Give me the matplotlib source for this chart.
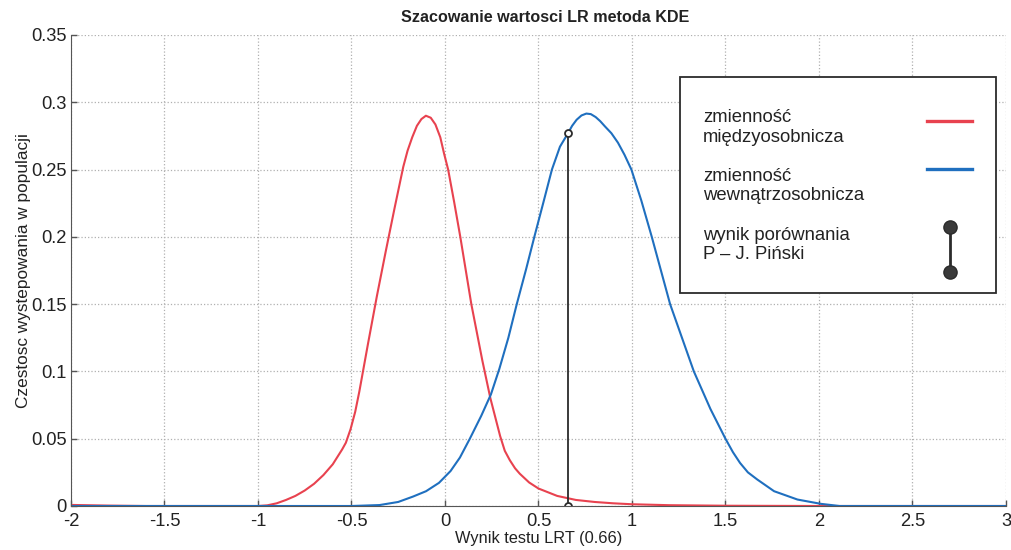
import matplotlib
matplotlib.use("Agg")
import matplotlib.pyplot as plt
from matplotlib.patches import Rectangle

plt.rcParams['font.family'] = ['Liberation Sans', 'DejaVu Sans']
plt.rcParams['axes.unicode_minus'] = False

# KDE curves
red_x = [-2.0, -1.8, -1.6, -1.0, -0.95, -0.9, -0.85, -0.8, -0.75, -0.7, -0.65, -0.6,
         -0.55, -0.53, -0.505, -0.48, -0.458, -0.411, -0.364, -0.317, -0.27, -0.223,
         -0.2, -0.175, -0.15, -0.126, -0.102, -0.076, -0.051, -0.025, -0.005, 0.017,
         0.049, 0.082, 0.141, 0.2, 0.243, 0.295, 0.32, 0.347, 0.375, 0.4, 0.45, 0.5,
         0.6, 0.7, 0.8, 0.9, 1.0, 1.2, 1.5, 2.0, 3.0]
red_y = [0.0008, 0.0003, 0.0, 0.0, 0.0005, 0.002, 0.0045, 0.0075, 0.0115, 0.0165, 0.023,
         0.031, 0.042, 0.047, 0.057, 0.07, 0.085, 0.121, 0.156, 0.189, 0.221, 0.252,
         0.264, 0.274, 0.2825, 0.2875, 0.29, 0.2885, 0.2835, 0.274, 0.262, 0.25,
         0.226, 0.2, 0.15, 0.108, 0.08, 0.052, 0.041, 0.034, 0.028, 0.024, 0.0175,
         0.013, 0.0075, 0.0045, 0.003, 0.002, 0.0013, 0.0006, 0.0002, 0.0, 0.0]

blue_x = [-2.0, -0.5, -0.35, -0.25, -0.171, -0.101, -0.032, 0.03, 0.08, 0.133, 0.194,
          0.246, 0.291, 0.339, 0.384, 0.434, 0.478, 0.529, 0.572, 0.615, 0.658, 0.68,
          0.704, 0.73, 0.756, 0.78, 0.806, 0.83, 0.856, 0.89, 0.925, 0.96, 0.997, 1.05,
          1.106, 1.155, 1.204, 1.27, 1.331, 1.42, 1.5, 1.54, 1.578, 1.62, 1.67, 1.76,
          1.885, 2.01, 2.11, 3.0]
blue_y = [0.0, 0.0, 0.0007, 0.003, 0.007, 0.011, 0.0172, 0.026, 0.036, 0.05, 0.067,
          0.083, 0.102, 0.125, 0.15, 0.176, 0.2, 0.227, 0.25, 0.267, 0.277, 0.2825,
          0.287, 0.2902, 0.2916, 0.2912, 0.289, 0.286, 0.282, 0.277, 0.27, 0.261, 0.25,
          0.227, 0.2, 0.175, 0.15, 0.124, 0.1, 0.072, 0.05, 0.04, 0.032, 0.025, 0.0197,
          0.011, 0.0048, 0.0016, 0.0, 0.0]

# comparison result P - J. Pinski
lrt_x = 0.66
lrt_y = 0.277

x_ticks = [-2, -1.5, -1, -0.5, 0, 0.5, 1, 1.5, 2, 2.5, 3]
x_tick_labels = ['-2', '-1.5', '-1', '-0.5', '0', '0.5', '1', '1.5', '2', '2.5', '3']
y_ticks = [0, 0.05, 0.1, 0.15, 0.2, 0.25, 0.3, 0.35]
y_tick_labels = ['0', '0.05', '0.1', '0.15', '0.2', '0.25', '0.3', '0.35']

legend_labels = ['zmienność\nmiędzyosobnicza', 'zmienność\nwewnątrzosobnicza',
                 'wynik porównania\nP – J. Piński']

red = '#e8424f'
blue = '#1f6fbf'
dark = '#2b2b2b'

fig = plt.figure(figsize=(10.11, 5.5), dpi=100)
ax = fig.add_axes([0.0702, 0.08, 0.9248, 0.8564])

ax.plot(red_x, red_y, color=red, lw=1.5)
ax.plot(blue_x, blue_y, color=blue, lw=1.5)
ax.plot([lrt_x, lrt_x], [0, lrt_y], color=dark, lw=1.3, marker='o', ms=5,
        mfc='white', mec=dark, mew=1.3)

ax.set_xlim(-2, 3)
ax.set_ylim(0, 0.35)
ax.set_xticks(x_ticks)
ax.set_xticklabels(x_tick_labels)
ax.set_yticks(y_ticks)
ax.set_yticklabels(y_tick_labels)
ax.tick_params(direction='in', length=4, width=1, color='#555555',
               labelsize=13.2, pad=3, labelcolor='#222222')
ax.tick_params(axis='x', pad=5)
ax.grid(True, linestyle=':', color='#b0b0b0', lw=0.9)
for side in ['top', 'right']:
    ax.spines[side].set_visible(False)
for side in ['left', 'bottom']:
    ax.spines[side].set_color('#555555')

ax.set_title('Szacowanie wartosci LR metoda KDE', fontsize=11.6, fontweight='bold',
             pad=9, x=0.507, color='#222222')
ax.set_xlabel('Wynik testu LRT (0.66)', fontsize=11.8, labelpad=1, color='#222222')
ax.set_ylabel('Czestosc wystepowania w populacji', fontsize=12.4, labelpad=0,
              color='#222222')

# legend box drawn by hand: text left, samples right
box = Rectangle((0.6513, 0.4522), 0.338, 0.4586, transform=ax.transAxes,
                facecolor='white', edgecolor=dark, lw=1.3, zorder=5)
ax.add_patch(box)
text_y = [0.8036, 0.6796, 0.5541]
for lab, ty in zip(legend_labels, text_y):
    ax.text(0.676, ty, lab, transform=ax.transAxes, fontsize=13.3, va='center',
            ha='left', linespacing=1.2, color='#222222', zorder=6)
ax.plot([0.9155, 0.9636], [0.8174, 0.8174], transform=ax.transAxes, color=red,
        lw=2.4, zorder=6)
ax.plot([0.9155, 0.9636], [0.7161, 0.7161], transform=ax.transAxes, color=blue,
        lw=2.4, zorder=6)
ax.plot([0.9401, 0.9401], [0.593, 0.4975], transform=ax.transAxes, color=dark,
        lw=2.0, marker='o', ms=9.5, mfc='#3a3a3a', mec=dark, zorder=6)

fig.savefig('out.png', dpi=100)
